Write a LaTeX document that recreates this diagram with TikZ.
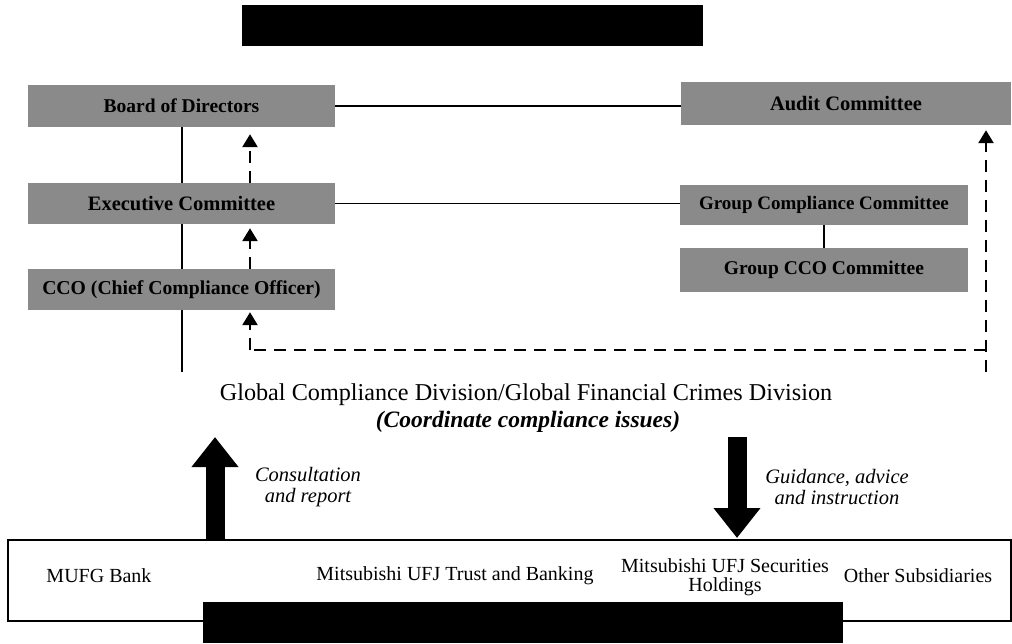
\documentclass[tikz,border=0pt]{standalone}
\usepackage{fontspec}
\setmainfont{Liberation Serif}
\usetikzlibrary{arrows.meta}
\pgfdeclarelayer{background}
\pgfsetlayers{background,main}

\tikzset{
  organ/.style={fill=black!46, draw=none, inner sep=0pt,
    font=\fontsize{19.5}{21}\selectfont\bfseries, text=black},
  link/.style={line width=1.8pt},
  report/.style={line width=2.6pt, dash pattern=on 12pt off 8pt,
    -{Triangle[width=15pt,length=13pt]}},
  dashrun/.style={line width=2.6pt, dash pattern=on 12pt off 8pt},
  bigarrow/.style={line width=19pt, -{Triangle[width=45pt,length=30pt]}},
  entity/.style={font=\fontsize{20}{18.5}\selectfont, align=center, inner sep=0pt},
  flowlabel/.style={font=\fontsize{20.5}{21}\selectfont\itshape, align=center, inner sep=0pt},
  redact/.style={fill=black, draw=none}
}

\begin{document}
\begin{tikzpicture}[x=1pt,y=-1pt]
\useasboundingbox (0,0) rectangle (1012,643);

% title bar (redacted)
\fill[redact] (242,5) rectangle (703,46);

% governance bodies
\node[organ, minimum width=307pt, minimum height=42pt] (board) at (181.5,106) {Board of Directors};
\node[organ, minimum width=307pt, minimum height=41pt, font=\fontsize{20.5}{22}\selectfont\bfseries] (exec) at (181.5,203.5) {Executive Committee};
\node[organ, minimum width=307pt, minimum height=41pt, font=\fontsize{19.7}{21}\selectfont\bfseries] (cco) at (181.5,289.5) {CCO (Chief Compliance Officer)};
\node[organ, minimum width=330pt, minimum height=43pt, font=\fontsize{20.5}{22}\selectfont\bfseries] (audit) at (846,103.5) {Audit Committee};
\node[organ, minimum width=288pt, minimum height=40pt, font=\fontsize{19}{21}\selectfont\bfseries] (gcc) at (824,205) {Group Compliance Committee};
\node[organ, minimum width=288pt, minimum height=44pt] (gcco)  at (824,270) {Group CCO Committee};

% compliance division
\node[anchor=base, inner sep=0pt, font=\fontsize{24.2}{26}\selectfont] (gcd) at (526,400)
  {Global Compliance Division/Global Financial Crimes Division};
\node[anchor=base, inner sep=0pt, font=\fontsize{23.5}{25}\selectfont\bfseries\itshape] (gcdnote) at (528,427)
  {(Coordinate compliance issues)};

% reporting spine on the left, behind the boxes
\coordinate (spineend) at (182,372);
\begin{pgfonlayer}{background}
\draw[link] (board.south -| spineend) -- (spineend);
\end{pgfonlayer}

% horizontal links
\draw[link] (board.east) -- (audit.west |- board.east);
\draw[link] (exec.east) -- (gcc.west |- exec.east);
\draw[link] (gcc.south) -- (gcco.north);

% dashed reporting arrows
\coordinate (col) at (250,0);
\draw[report] (exec.north -| col) -- ([yshift=-7pt]board.south -| col);
\draw[report] (cco.north -| col) -- ([yshift=-4pt]exec.south -| col);
\coordinate (dl) at (250,350);
\coordinate (dr) at (986,350);
\coordinate (dbot) at (986,372);
\draw[dashrun] (dr) -- (dl);
\draw[report] (dl) -- ([yshift=-2pt]cco.south -| dl);
\draw[report] (dbot) -- ([yshift=-5pt]audit.south -| dbot);

% subsidiaries
\draw[line width=1.8pt] (8,540) rectangle (1011,621);
\node[entity] (bank)  at (99,576) {MUFG Bank};
\node[entity] (trust) at (455,576) {Mitsubishi UFJ Trust and Banking};
\node[entity] (sec) at (725,577) {Mitsubishi UFJ Securities\\Holdings};
\node[entity] (other) at (918,576) {Other Subsidiaries};
\fill[redact] (203,602) rectangle (843,643);

% flows between division and subsidiaries
\coordinate (upfoot) at (215,540);
\coordinate (uptip)  at (215,437);
\draw[bigarrow] (upfoot) -- (uptip);
\coordinate (downtop) at (737,437);
\coordinate (downtip) at (737,538);
\draw[bigarrow] (downtop) -- (downtip);
\node[flowlabel] (consult) at (308,487) {Consultation\\and report};
\node[flowlabel] (guide) at (837,487) {Guidance, advice\\and instruction};
\end{tikzpicture}
\end{document}
